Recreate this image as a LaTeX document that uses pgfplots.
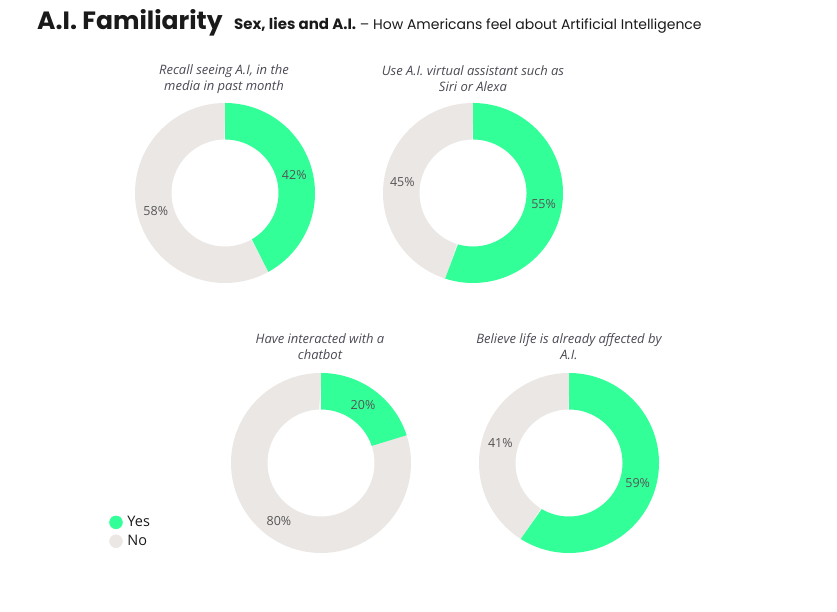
\documentclass[border=0pt]{standalone}
\usepackage{fontspec}
\setmainfont{Open Sans}
\newfontfamily\titlefont{Poppins}
\usepackage{pgfplots}
\pgfplotsset{compat=1.18}
\definecolor{yesc}{HTML}{33FF99}
\definecolor{noc}{HTML}{EBE7E4}
\definecolor{lab}{HTML}{555555}
\definecolor{ttl}{HTML}{4A4A55}
\definecolor{dark}{HTML}{1A1A1A}

% one ring segment: cx, cy, start angle, end angle, colour
\newcommand\seg[5]{%
\addplot[fill=#5, draw=none, forget plot, domain=0:2, samples=241, variable=\t]
 ({#1 + (90*(\t<=1)+53.5*(\t>1))*cos((#3)+((#4)-(#3))*((\t<=1)*\t+(\t>1)*(2-\t)))},
  {#2 + (90*(\t<=1)+53.5*(\t>1))*sin((#3)+((#4)-(#3))*((\t<=1)*\t+(\t>1)*(2-\t)))});
}
% donut: cx, cy, yes, no
\newcommand\donut[4]{%
 \seg{#1}{#2}{90-3.6*#3+0.4}{-270-0.4}{noc}
 \seg{#1}{#2}{90}{90-3.6*#3}{yesc}
 \node[lab, font=\fontsize{12.5}{13}\selectfont] at (axis cs:{#1+71.5*cos(90-1.8*#3)},{#2+71.5*sin(90-1.8*#3)}) {#3\%};
 \node[lab, font=\fontsize{12.5}{13}\selectfont] at (axis cs:{#1+71.5*cos(90-3.6*#3-1.8*#4)},{#2+71.5*sin(90-3.6*#3-1.8*#4)}) {#4\%};
}

\begin{document}
\begin{tikzpicture}
\begin{axis}[
  width=837pt, height=612pt, scale only axis,
  xmin=0, xmax=837, ymin=-612, ymax=0,
  hide axis, clip=false,
  legend style={at={(0.127,0.131)}, anchor=west, draw=none, fill=none,
    font=\fontsize{14.5}{15}\selectfont, row sep=3pt,
    /tikz/every odd column/.append style={column sep=3pt}},
  legend cell align=left,
]
\path (axis cs:0,0) rectangle (axis cs:837,-612);
\addlegendimage{only marks, mark=*, mark size=6.5pt, mark options={draw=yesc, fill=yesc}}
\addlegendentry{\textcolor{dark}{Yes}}
\addlegendimage{only marks, mark=*, mark size=6.5pt, mark options={draw=noc, fill=noc}}
\addlegendentry{\textcolor{dark}{No}}

\donut{225}{-193}{42}{58}
\donut{473}{-193}{55}{45}
\donut{321}{-463}{20}{80}
\donut{569}{-463}{59}{41}

\node[ttl, align=center, font=\itshape\fontsize{13}{16}\selectfont] at (axis cs:224,-79) {Recall seeing A.I, in the\\media in past month};
\node[ttl, align=center, font=\itshape\fontsize{13}{16}\selectfont] at (axis cs:473,-79) {Use A.I. virtual assistant such as\\Siri or Alexa};
\node[ttl, align=center, font=\itshape\fontsize{13}{16}\selectfont] at (axis cs:320,-347) {Have interacted with a\\chatbot};
\node[ttl, align=center, font=\itshape\fontsize{13}{16}\selectfont] at (axis cs:569,-347) {Believe life is already affected by\\A.I.};

\node[anchor=base west, inner sep=0pt, text=dark, font=\titlefont\bfseries\fontsize{25}{28}\selectfont] at (axis cs:37,-30) {A.I. Familiarity};
\node[anchor=base west, inner sep=0pt, text=dark, font=\titlefont\fontsize{14}{15}\selectfont] at (axis cs:234,-30) {{\bfseries\fontsize{15}{15}\selectfont Sex, lies and A.I.} – How Americans feel about Artificial Intelligence};
\end{axis}
\end{tikzpicture}
\end{document}
